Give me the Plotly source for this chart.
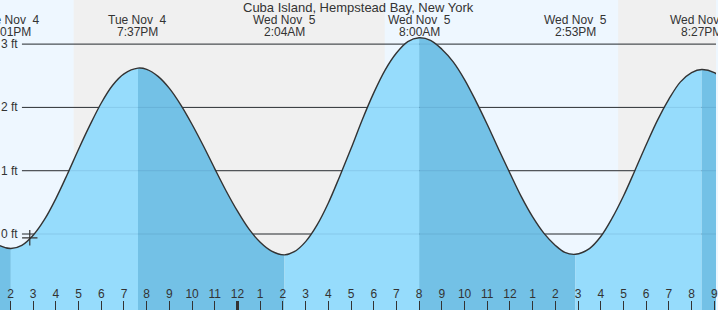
import plotly.graph_objects as go
import pandas as pd

# ---------------- data ----------------
tide_times = [
    "2025-11-04 13:00", "2025-11-04 13:30", "2025-11-04 14:01", "2025-11-04 14:30",
    "2025-11-04 15:00", "2025-11-04 15:30", "2025-11-04 16:00", "2025-11-04 16:30",
    "2025-11-04 17:00", "2025-11-04 17:30", "2025-11-04 18:00", "2025-11-04 18:30",
    "2025-11-04 19:00", "2025-11-04 19:37", "2025-11-04 20:00", "2025-11-04 20:30",
    "2025-11-04 21:00", "2025-11-04 21:30", "2025-11-04 22:00", "2025-11-04 22:30",
    "2025-11-04 23:00", "2025-11-04 23:30", "2025-11-05 00:00", "2025-11-05 00:30",
    "2025-11-05 01:00", "2025-11-05 01:30", "2025-11-05 02:04", "2025-11-05 02:30",
    "2025-11-05 03:00", "2025-11-05 03:30", "2025-11-05 04:00", "2025-11-05 04:30",
    "2025-11-05 05:00", "2025-11-05 05:30", "2025-11-05 06:00", "2025-11-05 06:30",
    "2025-11-05 07:00", "2025-11-05 07:30", "2025-11-05 08:00", "2025-11-05 08:30",
    "2025-11-05 09:00", "2025-11-05 09:30", "2025-11-05 10:00", "2025-11-05 10:30",
    "2025-11-05 11:00", "2025-11-05 11:30", "2025-11-05 12:00", "2025-11-05 12:30",
    "2025-11-05 13:00", "2025-11-05 13:30", "2025-11-05 14:00", "2025-11-05 14:25",
    "2025-11-05 14:53", "2025-11-05 15:30", "2025-11-05 16:00", "2025-11-05 16:30",
    "2025-11-05 17:00", "2025-11-05 17:30", "2025-11-05 18:00", "2025-11-05 18:30",
    "2025-11-05 19:00", "2025-11-05 19:30", "2025-11-05 20:00", "2025-11-05 20:27",
    "2025-11-05 21:00", "2025-11-05 21:30", "2025-11-05 22:00",
]
tide_ft = [
    -0.05, -0.18, -0.23, -0.18,
    -0.02, 0.23, 0.56, 0.94,
    1.34, 1.72, 2.07, 2.35,
    2.53, 2.62, 2.60, 2.49,
    2.30, 2.04, 1.73, 1.39,
    1.03, 0.68, 0.36, 0.08,
    -0.13, -0.27, -0.33, -0.28,
    -0.12, 0.14, 0.49, 0.91,
    1.35, 1.81, 2.23, 2.59,
    2.86, 3.04, 3.10, 3.06,
    2.92, 2.72, 2.44, 2.10,
    1.73, 1.34, 0.96, 0.59,
    0.27, 0.01, -0.18, -0.29,
    -0.32, -0.23, -0.04, 0.25,
    0.60, 1.00, 1.41, 1.80,
    2.13, 2.40, 2.55, 2.60,
    2.55, 2.41, 2.20,
]

event_times = ["2025-11-04 14:01", "2025-11-04 19:37", "2025-11-05 02:04",
               "2025-11-05 08:00", "2025-11-05 14:53", "2025-11-05 20:27"]
event_dates = ["Tue Nov\u00a0 4", "Tue Nov\u00a0 4", "Wed Nov\u00a0 5",
               "Wed Nov\u00a0 5", "Wed Nov\u00a0 5", "Wed Nov\u00a0 5"]
event_clock = ["2:01PM", "7:37PM", "2:04AM", "8:00AM", "2:53PM", "8:27PM"]

night_start = ["2025-11-04 16:47", "2025-11-05 16:46"]
night_end = ["2025-11-05 06:29", "2025-11-05 21:10"]

now_time = ["2025-11-04 14:51"]
now_ft = [-0.06]

y_ticks = [0, 1, 2, 3]
y_tick_labels = ["0 ft", "1 ft", "2 ft", "3 ft"]

title_text = "Cuba Island, Hempstead Bay, New York"

X_RANGE = ["2025-11-04 13:32:20", "2025-11-05 21:04:30"]
Y_RANGE = [-1.2006, 3.697]

# ---------------- style ----------------
FONT = "Liberation Sans, Arial, sans-serif"
TXT = "#333333"
DAY_BG = "#eef7ff"
NIGHT_BG = "#f0f0f0"
RISE_FILL = "#96dcfc"
FALL_FILL = "#73c1e6"

fig = go.Figure()

# fills split at high / low events
ts = pd.to_datetime(tide_times)
ev = set(pd.to_datetime(event_times))
splits = [i for i, t in enumerate(ts) if t in ev]
bounds = [0] + splits + [len(ts) - 1]
for a, b in zip(bounds[:-1], bounds[1:]):
    xs = tide_times[a:b + 1]
    ys = tide_ft[a:b + 1]
    color = RISE_FILL if tide_ft[b] > tide_ft[a] else FALL_FILL
    fig.add_trace(go.Scatter(x=xs, y=[Y_RANGE[0]] * len(xs), mode="lines",
                             line=dict(width=0), hoverinfo="skip", showlegend=False))
    fig.add_trace(go.Scatter(x=xs, y=ys, mode="lines", fill="tonexty",
                             fillcolor=color, line=dict(width=0, shape="spline"),
                             hoverinfo="skip", showlegend=False))

# outline
fig.add_trace(go.Scatter(x=tide_times, y=tide_ft, mode="lines",
                         line=dict(color="#333333", width=1.4, shape="spline"),
                         showlegend=False))

# current time marker
fig.add_trace(go.Scatter(x=now_time, y=now_ft, mode="markers",
                         marker=dict(symbol="cross-thin", size=11,
                                     line=dict(color="#333333", width=1.2)),
                         showlegend=False))

shapes = []
for s, e in zip(night_start, night_end):
    shapes.append(dict(type="rect", xref="x", yref="paper", x0=s, x1=e, y0=0, y1=1,
                       fillcolor=NIGHT_BG, line=dict(width=0), layer="below"))
for v in y_ticks:
    shapes.append(dict(type="line", xref="paper", yref="y", x0=22 / 718, x1=1, y0=v, y1=v,
                       line=dict(color="#333333", width=1), layer="below"))
    shapes.append(dict(type="line", xref="paper", yref="y", x0=22 / 718, x1=1, y0=v, y1=v,
                       line=dict(color="rgba(0,50,90,0.10)", width=1), layer="above"))

annotations = []
for v, lab in zip(y_ticks, y_tick_labels):
    annotations.append(dict(x=19.8 / 718, xref="paper", y=v, yref="y", text=lab,
                            showarrow=False, xanchor="right", yanchor="middle",
                            font=dict(family=FONT, size=12, color=TXT)))
for t, d, c in zip(event_times, event_dates, event_clock):
    annotations.append(dict(x=t, xref="x", y=1 - 20 / 310, yref="paper", text=d,
                            showarrow=False, xanchor="center", yanchor="middle",
                            font=dict(family=FONT, size=12, color=TXT)))
    annotations.append(dict(x=t, xref="x", y=1 - 32 / 310, yref="paper", text=c,
                            showarrow=False, xanchor="center", yanchor="middle",
                            font=dict(family=FONT, size=12, color=TXT)))
annotations.append(dict(x=0.5, xref="paper", y=1 - 8 / 310, yref="paper", text=title_text,
                        showarrow=False, xanchor="center", yanchor="middle",
                        font=dict(family=FONT, size=13, color=TXT)))

fig.update_layout(
    width=718, height=310,
    margin=dict(l=0, r=0, t=0, b=0, pad=0),
    paper_bgcolor=DAY_BG, plot_bgcolor=DAY_BG,
    shapes=shapes, annotations=annotations,
    showlegend=False,
    xaxis=dict(type="date", range=X_RANGE, tick0="2025-11-04 00:00", dtick=3600000,
               tickformat="%-I", ticks="inside", ticklen=9, tickwidth=1, tickcolor=TXT,
               ticklabelposition="inside", ticklabeloverflow="allow",
               tickfont=dict(family=FONT, size=12, color=TXT),
               showgrid=False, zeroline=False, showline=False, fixedrange=True),
    xaxis2=dict(type="date", range=X_RANGE, overlaying="x", anchor="y", side="bottom",
                tickvals=["2025-11-05 00:00"], ticks="inside", ticklen=9, tickwidth=3,
                tickcolor=TXT, showticklabels=False, showgrid=False, zeroline=False,
                showline=False),
    yaxis=dict(range=Y_RANGE, showgrid=False, zeroline=False, showticklabels=False,
               showline=False, fixedrange=True),
)
# invisible trace attached to xaxis2 so its tick renders
fig.add_trace(go.Scatter(x=[X_RANGE[0]], y=[Y_RANGE[0]], xaxis="x2", mode="markers",
                         marker=dict(opacity=0), hoverinfo="skip", showlegend=False))

fig.write_html("out.html")
